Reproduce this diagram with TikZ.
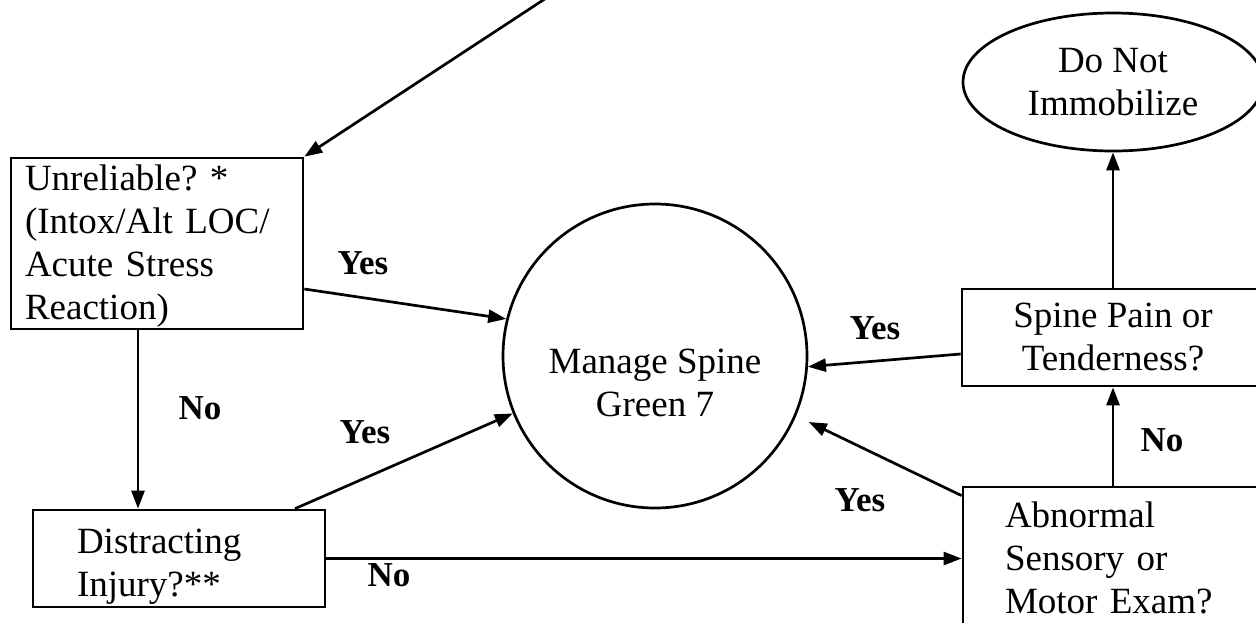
\documentclass[tikz,border=0pt]{standalone}
\usepackage{fontspec}
\setmainfont{Liberation Serif}
\frenchspacing
\usetikzlibrary{shapes.geometric}
\usetikzlibrary{arrows.meta}
\usetikzlibrary{positioning}
\tikzstyle{link} = [draw, line width=2.7pt, -{Triangle[length=18pt,width=13pt]}]
\tikzstyle{every block} = [draw, line width=2.7pt, font=\fontsize{37}{43}\selectfont]
\tikzstyle{question} = [rectangle, every block, align=left, inner ysep=0pt]
\tikzstyle{outcome} = [ellipse, every block, align=center, minimum width=300pt, minimum height=138pt]
\tikzstyle{treat} = [circle, every block, minimum size=304pt]
\tikzstyle{answer} = [font=\fontsize{35}{40}\selectfont\bfseries]

\begin{document}
\begin{tikzpicture} [x=1pt, y=-1pt, every edge/.style={link}]

\useasboundingbox (0,0) rectangle (1256,622);
\clip (0,0) rectangle (1256,622);

% Left column

\node[question, text width=264pt, inner xsep=14pt, minimum height=171pt] (unrel) at (157,243.5) {\rule{0pt}{31pt}Unreliable? *\\(Intox/Alt LOC/\\Acute Stress\\Reaction)};

\node[question, text width=204pt, inner xsep=44pt, minimum height=97pt] (distract) [node distance=315pt, below of=unrel, xshift=22pt] {\rule{0pt}{40pt}Distracting\\Injury?**};

% Centre

\node[treat, label={[every block, draw=none, align=center, yshift=-27pt]center:{Manage Spine\\Green 7}}] (manage) [node distance=498pt, right of=unrel, yshift=-112.5pt] {};

% Right column

\node[question, align=center, minimum width=302pt, minimum height=97pt] (spine) [node distance=458pt, right of=manage, yshift=18.5pt] {Spine Pain or\\Tenderness?};

\node[question, text width=216pt, inner xsep=42pt, minimum height=142pt] (abnormal) [node distance=220.5pt, below of=spine] {Abnormal\\Sensory or\\Motor Exam?};

\node[outcome] (immob) [node distance=255.5pt, above of=spine] {Do Not\\Immobilize};

% Connectors

\coordinate (topin) at (560,-11);

\path (topin) edge (unrel.north east);
\path ([yshift=-45.5pt]unrel.east) edge (manage.166);
\path ([xshift=-19pt]unrel.south) edge ([xshift=-19pt]unrel.south |- distract.north);
\path ([xshift=116pt]distract.north) edge (manage.202);
\path (distract.east) edge (distract.east -| abnormal.west);
\path ([yshift=-10pt]abnormal.north west) edge [shorten >=14pt] (manage.-23);
\path (abnormal.north) edge (spine.south);
\path ([yshift=-16.5pt]spine.west) edge (manage.-4);
\path (spine.north) edge (immob.south);

% Answers

\node[answer] (yesa) at (363,263) {Yes};
\node[answer] (noa) at (200,408) {No};
\node[answer] (yesb) at (365,432) {Yes};
\node[answer] (nob) at (389,575) {No};
\node[answer] (yesc) at (875,328) {Yes};
\node[answer] (yesd) at (860,500) {Yes};
\node[answer] (noc) at (1162,440) {No};

\end{tikzpicture}
\end{document}
